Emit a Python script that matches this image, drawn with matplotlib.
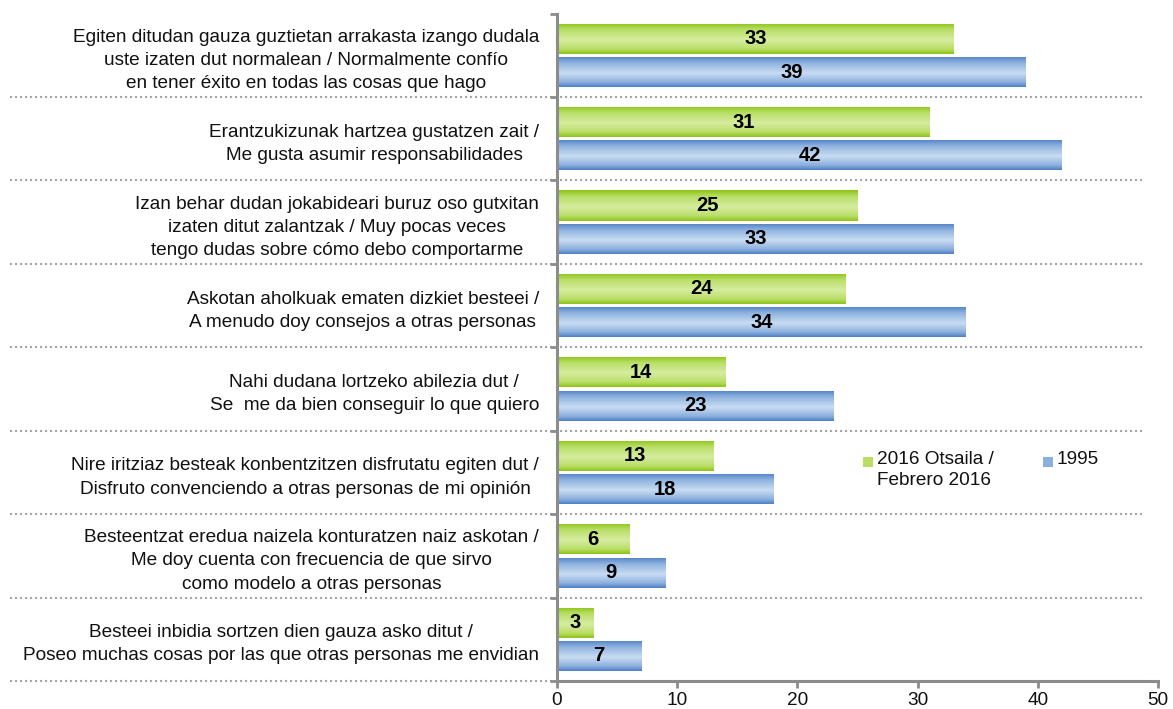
#!/usr/bin/env python3
"""
Self-confidence items, 2016 vs 1995 (horizontal bars)
"""

import numpy as np
import matplotlib
matplotlib.use("Agg")
import matplotlib.pyplot as plt
from matplotlib.colors import LinearSegmentedColormap
from matplotlib.lines import Line2D
from matplotlib.patches import Rectangle
from matplotlib.transforms import blended_transform_factory

#########################
#         data          #
#########################

categories = [
    "Egiten ditudan gauza guztietan arrakasta izango dudala\n"
    "uste izaten dut normalean / Normalmente confío\n"
    "en tener éxito en todas las cosas que hago",
    "Erantzukizunak hartzea gustatzen zait /\n"
    "Me gusta asumir responsabilidades",
    "Izan behar dudan jokabideari buruz oso gutxitan\n"
    "izaten ditut zalantzak / Muy pocas veces\n"
    "tengo dudas sobre cómo debo comportarme",
    "Askotan aholkuak ematen dizkiet besteei /\n"
    "A menudo doy consejos a otras personas",
    "Nahi dudana lortzeko abilezia dut /\n"
    "Se  me da bien conseguir lo que quiero",
    "Nire iritziaz besteak konbentzitzen disfrutatu egiten dut /\n"
    "Disfruto convenciendo a otras personas de mi opinión",
    "Besteentzat eredua naizela konturatzen naiz askotan /\n"
    "Me doy cuenta con frecuencia de que sirvo\n"
    "como modelo a otras personas",
    "Besteei inbidia sortzen dien gauza asko ditut /\n"
    "Poseo muchas cosas por las que otras personas me envidian",
]

values_2016 = [33, 31, 25, 24, 14, 13, 6, 3]
values_1995 = [39, 42, 33, 34, 23, 18, 9, 7]

series_names = ["2016 Otsaila /\nFebrero 2016", "1995"]
x_ticks = [0, 10, 20, 30, 40, 50]

#########################
#        style          #
#########################

FS = 13.7
plt.rcParams['font.family'] = ['Liberation Sans', 'DejaVu Sans']
plt.rcParams['font.size'] = FS

GREEN_DARK, GREEN_MID, GREEN_LIGHT = "#8cc417", "#b9de66", "#d6eca0"
BLUE_DARK, BLUE_MID, BLUE_LIGHT = "#4f80c6", "#8cb0de", "#c9dcf2"
AXIS_GREY = "#8c8c8c"
DOT_GREY = "#a6a6a6"
TEXT = "#111111"

green_cmap = LinearSegmentedColormap.from_list(
    "g", [(0, GREEN_DARK), (0.2, GREEN_MID), (0.55, GREEN_LIGHT),
          (0.85, GREEN_MID), (1, GREEN_DARK)])
blue_cmap = LinearSegmentedColormap.from_list(
    "b", [(0, BLUE_DARK), (0.2, BLUE_MID), (0.55, BLUE_LIGHT),
          (0.85, BLUE_MID), (1, BLUE_DARK)])
grad = np.linspace(0, 1, 64).reshape(-1, 1)


def gradient_fill(ax, bars, cmap):
    '''paints a vertical gradient inside each bar patch'''
    for b in bars:
        x0, y0 = b.get_x(), b.get_y()
        w, h = b.get_width(), b.get_height()
        im = ax.imshow(grad, cmap=cmap, aspect='auto', zorder=2,
                       extent=[x0, x0 + w, y0 + h, y0], interpolation='bilinear')
        im.set_clip_path(b)


#########################
#        plot           #
#########################

fig = plt.figure(figsize=(11.73, 7.09), dpi=100)
ax = fig.add_axes([0.4749, 0.0395, 0.5123, 0.9413])

n = len(categories)
centers = np.arange(n) + 0.5
bh = 0.36

bars_g = ax.barh(centers - 0.2, values_2016, height=bh, color="none",
                 edgecolor="none", zorder=2)
bars_b = ax.barh(centers + 0.2, values_1995, height=bh, color="none",
                 edgecolor="none", zorder=2)
gradient_fill(ax, bars_g, green_cmap)
gradient_fill(ax, bars_b, blue_cmap)

for bars in (bars_g, bars_b):
    ax.bar_label(bars, label_type='center', fontweight='bold',
                 fontsize=14.5, zorder=4, color="#000000")

ax.set_xlim(0, 50)
ax.set_ylim(n, 0)

# axes look
for s in ["top", "right"]:
    ax.spines[s].set_visible(False)
for s in ["left", "bottom"]:
    ax.spines[s].set_color(AXIS_GREY)
    ax.spines[s].set_linewidth(2.2)
    ax.spines[s].set_zorder(5)

ax.set_xticks(x_ticks)
ax.tick_params(axis='x', length=5, width=2, color=AXIS_GREY, pad=3,
               labelsize=FS, labelcolor=TEXT)

ax.set_yticks(centers, categories)
ax.set_yticks(np.arange(n + 1), minor=True)
ax.tick_params(axis='y', which='major', length=0, pad=13, labelsize=FS,
               labelcolor=TEXT)
ax.tick_params(axis='y', which='minor', length=5, width=2, color=AXIS_GREY)
for t in ax.get_yticklabels():
    t.set_multialignment('center')
    t.set_linespacing(1.47)

# dotted separators between the groups, running under the labels too
trans = blended_transform_factory(fig.transFigure, ax.transData)
for yb in range(1, n + 1):
    ax.add_line(Line2D([10 / 1173, 1145 / 1173], [yb, yb], transform=trans,
                       color=DOT_GREY, lw=1.5, linestyle=(0, (1, 1.4)),
                       clip_on=False, zorder=1))

# legend, drawn by hand to keep the two-line label top aligned
leg = [(863, GREEN_MID, series_names[0]),
       (1043, BLUE_MID, series_names[1])]
for xpx, col, name in leg:
    fig.add_artist(Rectangle((xpx / 1173, 1 - 467 / 709), 10 / 1173, 10 / 709,
                             transform=fig.transFigure, facecolor=col,
                             edgecolor="none"))
    fig.text((xpx + 14) / 1173, 1 - 451 / 709, name, ha='left', va='top',
             fontsize=FS, color=TEXT, linespacing=1.3)

fig.savefig("out.png", dpi=100)
